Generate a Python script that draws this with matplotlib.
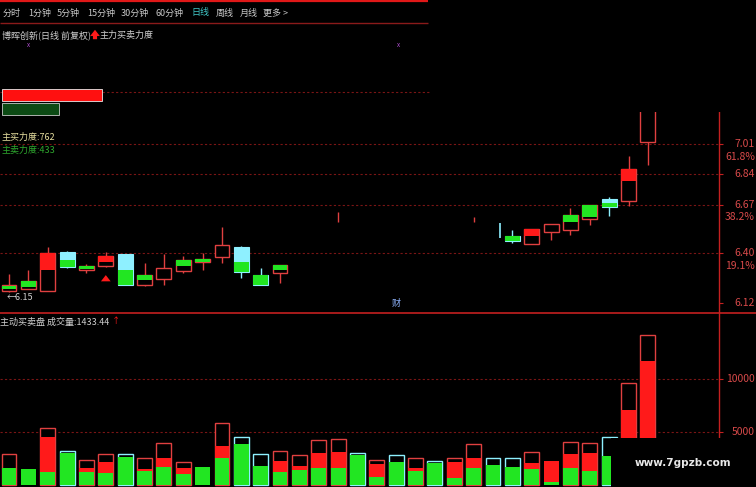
import numpy as np
import matplotlib
matplotlib.use("Agg")
import matplotlib.pyplot as plt
from matplotlib.patches import Rectangle

plt.rcParams['font.family'] = ['Noto Sans CJK SC', 'DejaVu Sans']

nan = np.nan

# ---- daily K-line data (nan = not shown on the screen) ----
kind = ['up', 'up', 'up', 'dn', 'up', 'up', 'dn', 'up', 'up', 'up', 'up', 'up', 'dn', 'dn', 'up',
        'up', 'up', 'up', 'dn', 'up', 'dn', 'up', 'dn', 'up', 'up', 'dn',
        'dn', 'up', 'up', 'up', 'up', 'dn', 'up', 'up']
open_ = [6.187, 6.200, 6.187, 6.406, 6.305, 6.327, 6.394, 6.221, 6.255, 6.299, 6.350, 6.378, 6.434, 6.277, 6.288,
         nan, nan, nan, nan, nan, nan, nan, nan, nan, nan, nan,
         6.495, 6.450, 6.518, 6.529, 6.590, 6.702, 6.691, 7.021]
close = [6.221, 6.243, 6.400, 6.322, 6.327, 6.383, 6.221, 6.277, 6.316, 6.361, 6.366, 6.445, 6.294, 6.221, 6.333,
         nan, nan, nan, nan, nan, nan, nan, nan, nan, nan, nan,
         6.467, 6.534, 6.562, 6.613, 6.669, 6.657, 6.870, 7.400]
high = [6.283, 6.305, 6.434, 6.410, 6.338, 6.406, 6.394, 6.344, 6.394, 6.383, 6.400, 6.546, 6.440, 6.316, 6.333,
        nan, nan, 6.630, nan, nan, nan, nan, nan, nan, 6.600, nan,
        6.529, 6.534, 6.562, 6.652, 6.669, 6.713, 6.943, 7.400]
low = [6.182, 6.198, 6.187, 6.316, 6.288, 6.322, 6.221, 6.215, 6.221, 6.288, 6.305, 6.344, 6.260, 6.221, 6.232,
       nan, nan, 6.574, nan, nan, nan, nan, nan, nan, 6.574, nan,
       6.456, 6.450, 6.473, 6.501, 6.557, 6.607, 6.663, 6.892]

# main-force overlay inside the candle body
ov_lo = [6.199, 6.210, 6.305, 6.322, 6.310, 6.350, 6.221, 6.249, nan, 6.327, 6.350, nan, 6.294, 6.221, 6.305,
         nan, nan, nan, nan, nan, nan, nan, nan, nan, nan, nan,
         6.467, 6.495, nan, 6.574, 6.602, 6.657, 6.803, nan]
ov_hi = [6.215, 6.243, 6.400, 6.361, 6.327, 6.383, 6.305, 6.277, nan, 6.361, 6.366, nan, 6.350, 6.277, 6.333,
         nan, nan, nan, nan, nan, nan, nan, nan, nan, nan, nan,
         6.495, 6.534, nan, 6.613, 6.669, 6.680, 6.870, nan]
ov_col = ['g', 'g', 'r', 'g', 'g', 'r', 'g', 'g', '', 'g', 'g', '', 'g', 'g', 'g',
          '', '', '', '', '', '', '', '', '', '', '',
          'g', 'r', '', 'g', 'g', 'g', 'r', '']

# the only visible piece of day 25 (edge of a cyan body)
edge_idx = [25]
edge_lo = [6.484]
edge_hi = [6.568]

signal_idx = [5]  # red up arrow under the candle

# ---- active buy / sell volume ----
vol_total = [2925, 1509, 5377, 3207, 2358, 2925, 2925, 2547, 3962, 2170, 1698, 5849, 4528, 2925, 3207,
             2830, 4245, 4340, 3019, 2358, 2830, 2547, 2264, 2547, 3868, 2547,
             2547, 3113, 2264, 4057, 3962, 4528, 9623, 14151]
vol_red = [0, 0, 4528, 0, 1604, 2170, 0, 1509, 2547, 1604, 0, 3679, 0, 0, 2264,
           1792, 3019, 3113, 0, 1981, 0, 1604, 0, 2170, 2547, 0,
           0, 2075, 2264, 2925, 3019, 0, 7075, 11698]
vol_green = [1604, 1509, 1226, 3019, 1226, 1132, 2641, 1321, 1698, 1038, 1698, 2547, 3868, 1792, 1226,
             1415, 1604, 1604, 2830, 755, 2170, 1321, 2075, 660, 1604, 1887,
             1698, 1509, 300, 1604, 1321, 2736, 2000, 2500]

# right axis levels
price_levels = [7.01, 6.84, 6.67, 6.40, 6.12]
fib_labels = ['61.8%', '', '38.2%', '19.1%', '']
grid_levels = [7.30, 7.01, 6.84, 6.67, 6.40]
vol_levels = [10000, 5000]

buy_force, sell_force = 762, 433

tabs = ['分时', '1分钟', '5分钟', '15分钟', '30分钟', '60分钟', '日线', '周线', '月线', '更多 >']

RED = '#ff1a1a'
RED_LINE = '#e04040'
GREEN = '#22e622'
CYAN = '#8ef0ff'
GRID = '#7a1515'
AXIS_RED = '#c42020'
LABEL = '#d84a4a'
FS = 6.5
ARROW = 'simple,head_width=0.7,head_length=0.45,tail_width=0.3'

W, H = 756, 487
fig = plt.figure(figsize=(W / 100, H / 100), dpi=100, facecolor='black')

x_left, x_right = -9 / 19.36, 710 / 19.36
ax = fig.add_axes([0, 174 / H, 719 / W, 290 / H], facecolor='black')
axv = fig.add_axes([0, 0, 719 / W, 174 / H], facecolor='black')

n = len(kind)
bw = 0.77

# ---- price panel ----
ax.set_xlim(x_left, x_right)
ax.set_ylim(6.0643, 7.6871)
for lv in grid_levels:
    ax.axhline(lv, color=GRID, lw=0.8, ls=(0, (2, 2)), zorder=1)

for i in range(n):
    c_edge = RED_LINE if kind[i] == 'up' else CYAN
    if not np.isnan(high[i]):
        ax.vlines(i, low[i], high[i], color=c_edge, lw=1.0, zorder=2)
    if np.isnan(open_[i]):
        continue
    bot = min(open_[i], close[i])
    hgt = abs(close[i] - open_[i])
    if kind[i] == 'up':
        ax.bar(i, hgt, bw, bot, facecolor='black', edgecolor=RED_LINE, lw=1.0, zorder=3)
    else:
        ax.bar(i, hgt, bw, bot, facecolor=CYAN, edgecolor=CYAN, lw=0.8, zorder=3)
    if ov_col[i]:
        ax.bar(i, ov_hi[i] - ov_lo[i], bw, ov_lo[i], color=RED if ov_col[i] == 'r' else GREEN,
               lw=0, zorder=4)

for i, lo, hi in zip(edge_idx, edge_lo, edge_hi):
    ax.vlines(i + bw / 2, lo, hi, color=CYAN, lw=1.2, zorder=3)

for i in signal_idx:
    ax.annotate('', xy=(i, low[i] - 0.030), xytext=(i, low[i] - 0.095),
                arrowprops=dict(arrowstyle=ARROW, color=RED, lw=0))

lowest = np.nanargmin(low)
ax.text(lowest - 0.1, 6.15, '←6.15', color='#d0d0d0', fontsize=FS, ha='left', va='center')
ax.text(20, 6.12, '财', color='#8fb4ff', fontsize=FS, ha='center', va='center')

ax.yaxis.tick_right()
ax.set_yticks(price_levels)
ax.tick_params(axis='y', colors=AXIS_RED, length=3, width=0.8, labelright=False)
ax.set_xticks([])
for s in ax.spines.values():
    s.set_visible(False)
tr = ax.get_yaxis_transform()
for lv, fl in zip(price_levels, fib_labels):
    ax.text(1.05, lv, f'{lv:.2f}', transform=tr, color=LABEL, fontsize=7.5, ha='right', va='center')
    if fl:
        ax.annotate(fl, xy=(1.05, lv), xycoords=tr, xytext=(0, -9), textcoords='offset points',
                    color=LABEL, fontsize=7.5, ha='right', va='center')

# ---- volume panel ----
axv.set_xlim(x_left, x_right)
axv.set_ylim(-189, 16226)
for lv in vol_levels:
    axv.axhline(lv, color=GRID, lw=0.8, ls=(0, (2, 2)), zorder=1)
for i in range(n):
    edge = RED_LINE if kind[i] == 'up' else CYAN
    if vol_total[i] > max(vol_red[i], vol_green[i]):
        axv.bar(i, vol_total[i], bw, facecolor='black', edgecolor=edge, lw=1.0, zorder=2)
    if vol_red[i] > vol_green[i]:
        axv.bar(i, vol_red[i] - vol_green[i], bw, vol_green[i], color=RED, lw=0, zorder=3)
    axv.bar(i, vol_green[i], bw, color=GREEN, lw=0, zorder=3)
axv.yaxis.tick_right()
axv.set_yticks(vol_levels)
axv.tick_params(axis='y', colors=AXIS_RED, length=3, width=0.8, labelright=False)
axv.set_xticks([])
for s in axv.spines.values():
    s.set_visible(False)
trv = axv.get_yaxis_transform()
for lv in vol_levels:
    axv.text(1.05, lv, str(lv), transform=trv, color=LABEL, fontsize=7.5, ha='right', va='center')

# ---- screen furniture (pixel overlay) ----
ov = fig.add_axes([0, 0, 1, 1], facecolor='none')
ov.set_xlim(0, W)
ov.set_ylim(H, 0)
ov.axis('off')

ov.hlines(1, 0, 428, color='#e01818', lw=1.6)
ov.hlines(23, 0, 428, color='#8a1a1a', lw=1.0)
ov.hlines(313, 0, W, color=AXIS_RED, lw=1.2)
ov.vlines(719, 23, H, color=AXIS_RED, lw=1.0)

tab_x = [3, 28, 57, 87, 121, 155, 191, 216, 240, 263]
for tx, t in zip(tab_x, tabs):
    ov.text(tx, 13, t, color='#40c8c8' if t == '日线' else '#c8c8c8', fontsize=FS,
            ha='left', va='center')

ov.text(2, 35, '博晖创新(日线 前复权)', color='#d0d0d0', fontsize=FS, ha='left', va='center')
ov.annotate('', xy=(95, 27), xytext=(95, 42), arrowprops=dict(arrowstyle=ARROW, color=RED, lw=0))
ov.text(100, 35, '主力买卖力度', color='#d0d0d0', fontsize=FS, ha='left', va='center')
for mx in [28, 398]:
    ov.text(mx, 45, 'x', color='#b050d0', fontsize=4.5, ha='center', va='center')

# buy / sell force bars
bar_scale = 100 / buy_force
ov.add_patch(Rectangle((2, 89), buy_force * bar_scale, 12, facecolor='#ff1010', edgecolor='#e8e8e8', lw=0.6))
ov.add_patch(Rectangle((2, 103), sell_force * bar_scale, 12, facecolor='#0c4a14', edgecolor='#c8c8c8', lw=0.6))
ov.text(2, 137, f'主买力度:{buy_force}', color='#e8e0a0', fontsize=FS, ha='left', va='center')
ov.text(2, 150, f'主卖力度:{sell_force}', color='#2ea82e', fontsize=FS, ha='left', va='center')

ov.text(0, 322, '主动买卖盘 成交量:1433.44', color='#d0d0d0', fontsize=FS, ha='left', va='center')
ov.text(116, 321, '↑', color=RED, fontsize=6, ha='center', va='center')

# pasted-over regions of the screenshot
ov.add_patch(Rectangle((430, 0), W - 430, 112, facecolor='black', edgecolor='none', zorder=10))
ov.add_patch(Rectangle((611, 438), W - 611, H - 438, facecolor='black', edgecolor='none', zorder=10))
ov.text(683, 463, 'www.7gpzb.com', color='#e8e8e8', fontsize=7.5, fontweight='bold',
        family='DejaVu Sans', ha='center', va='center', zorder=11)

fig.savefig('out.png', dpi=100, facecolor='black')
